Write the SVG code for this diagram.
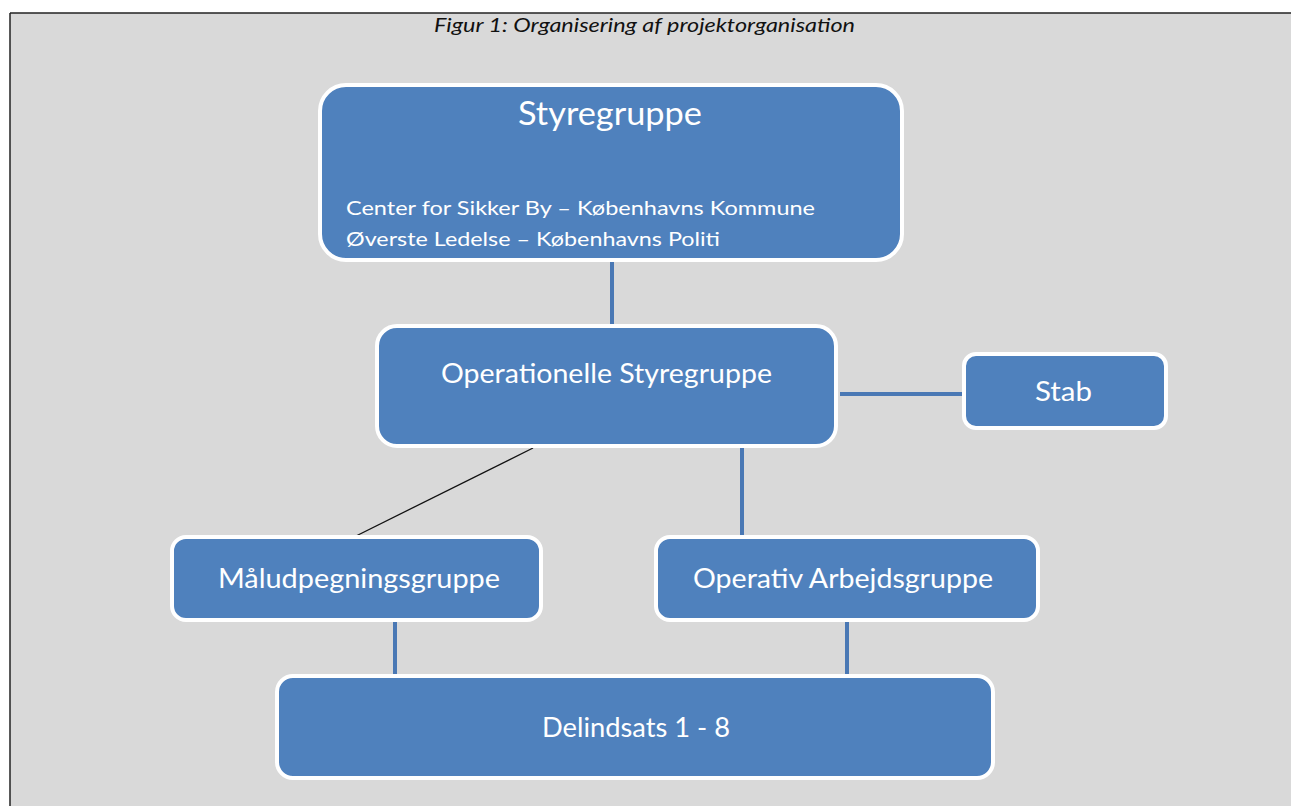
<svg xmlns="http://www.w3.org/2000/svg" width="1291" height="806" viewBox="0 0 1291 806">
<style>
.box{fill:#4f81bd;stroke:#ffffff;stroke-width:4}
.t{fill:#ffffff;font-family:Lato,"Open Sans","Liberation Sans",sans-serif;text-anchor:middle}
.l{text-anchor:start}
.c{stroke:#4a78b4;stroke-width:4;fill:none}
</style>
<rect x="0" y="0" width="1291" height="806" fill="#ffffff"/>
<rect x="10" y="13" width="1281" height="793" fill="#d9d9d9"/>
<line x1="10" y1="13" x2="1291" y2="13" stroke="#222" stroke-width="1.5"/>
<line x1="10" y1="13" x2="10" y2="806" stroke="#222" stroke-width="1.5"/>
<text x="434" y="32" font-family="Lato,'Open Sans','Liberation Sans',sans-serif" font-style="italic" font-size="19" fill="#111" textLength="421" lengthAdjust="spacingAndGlyphs">Figur 1: Organisering af projektorganisation</text>
<g id="connectors">
<line class="c" x1="612" y1="260" x2="612" y2="326"/>
<line class="c" x1="840" y1="394" x2="962" y2="394"/>
<line class="c" x1="742" y1="448" x2="742" y2="536"/>
<line x1="533" y1="448" x2="352" y2="538" stroke="#111" stroke-width="1.3"/>
<line class="c" x1="395" y1="621" x2="395" y2="678"/>
<line class="c" x1="847" y1="621" x2="847" y2="678"/>
</g>
<g id="styregruppe">
<rect class="box" x="320" y="85" width="582" height="175" rx="26"/>
<text class="t l" x="518" y="125" font-size="32" textLength="184" lengthAdjust="spacingAndGlyphs">Styregruppe</text>
<text class="t l" x="346" y="215" font-size="20" textLength="469" lengthAdjust="spacingAndGlyphs">Center for Sikker By – Københavns Kommune</text>
<text class="t l" x="346" y="246" font-size="20" textLength="374" lengthAdjust="spacingAndGlyphs">Øverste Ledelse – Københavns Politi</text>
</g>
<g id="operationelle">
<rect class="box" x="377" y="326" width="459" height="120" rx="20"/>
<text class="t l" x="441" y="383" font-size="26" textLength="331" lengthAdjust="spacingAndGlyphs">Operationelle Styregruppe</text>
</g>
<g id="stab">
<rect class="box" x="964" y="354" width="202" height="74" rx="12"/>
<text class="t l" x="1035" y="401" font-size="26" textLength="57" lengthAdjust="spacingAndGlyphs">Stab</text>
</g>
<g id="maal">
<rect class="box" x="172" y="537" width="369" height="83" rx="14"/>
<text class="t l" x="218" y="588" font-size="26" textLength="282" lengthAdjust="spacingAndGlyphs">Måludpegningsgruppe</text>
</g>
<g id="operativ">
<rect class="box" x="656" y="537" width="382" height="83" rx="14"/>
<text class="t l" x="693" y="588" font-size="26" textLength="300" lengthAdjust="spacingAndGlyphs">Operativ Arbejdsgruppe</text>
</g>
<g id="delindsats">
<rect class="box" x="277" y="676" width="716" height="102" rx="16"/>
<text class="t l" x="542" y="737" font-size="26" textLength="188" lengthAdjust="spacingAndGlyphs">Delindsats 1 - 8</text>
</g>
</svg>
